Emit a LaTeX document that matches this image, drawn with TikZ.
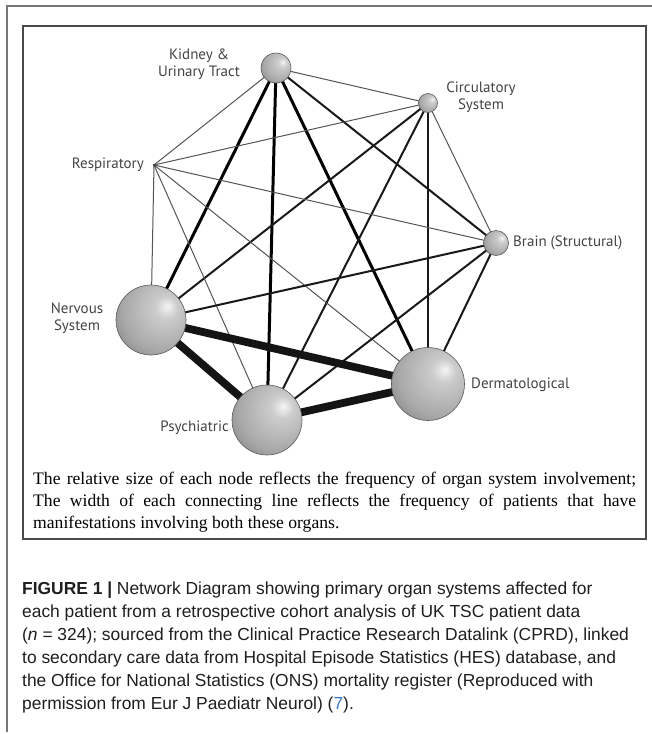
\documentclass[tikz,border=0pt]{standalone}
\usepackage{fontspec}
\setmainfont{Liberation Serif}
\newfontfamily\capfont{Liberation Sans}
\newfontfamily\labfont{PT Sans}
\usetikzlibrary{backgrounds}
\definecolor{labgray}{HTML}{444444}
\definecolor{framegray}{HTML}{777777}
\definecolor{boxgray}{HTML}{4A4A4A}
\definecolor{linkblue}{HTML}{3A78C0}
\definecolor{thingray}{HTML}{555555}
\pgfdeclareradialshading{sphereshade}{\pgfpoint{12bp}{10bp}}{%
  color(0bp)=(white!92!gray);
  color(8bp)=(gray!40);
  color(28bp)=(gray!68);
  color(48bp)=(gray!85!black);
  color(62bp)=(black!62);
  color(80bp)=(black!62)}
\tikzset{
  sph/.style={circle, draw=black!65, line width=0.6pt, shading=sphereshade, inner sep=0pt},
  lab/.style={font=\labfont\fontsize{15}{17}\selectfont, text=labgray, inner sep=0pt, align=center},
  thinedge/.style={draw=thingray, line width=1.0pt},
  mededge/.style={draw=black!90, line width=2.0pt},
  thickedge/.style={draw=black, line width=3.0pt},
  vthickedge/.style={draw=black!92, line width=7.8pt},
}
\begin{document}
\begin{tikzpicture}[x=1pt, y=-1pt]
\useasboundingbox (0,0) rectangle (652,734);
% frames
\draw[framegray, line width=1.5pt] (7,732) -- (7,6) -- (652,6);
\draw[boxgray, line width=1.6pt] (23,26) rectangle (646,539);
% spheres
\node[sph, minimum size=30pt] (K) at (276,68) {};
\node[sph, minimum size=19pt] (C) at (428,103) {};
\node[circle, fill=black!80, inner sep=0pt, minimum size=2.5pt] (R) at (154,165) {};
\node[sph, minimum size=25pt] (B) at (496,243) {};
\node[sph, minimum size=70pt] (N) at (151,320) {};
\node[sph, minimum size=73pt] (D) at (428,384) {};
\node[sph, minimum size=70pt] (P) at (267,420) {};
% background and edges
\begin{scope}[on background layer]
\fill[white] (0,0) rectangle (652,734);
\path[thinedge] (K.center) -- (C.center);
\path[thinedge] (K.center) -- (R.center);
\path[thickedge] (K.center) -- (N.center);
\path[thickedge] (K.center) -- (P.center);
\path[thickedge] (K.center) -- (D.center);
\path[mededge] (K.center) -- (B.center);
\path[thinedge] (C.center) -- (R.center);
\path[thinedge] (C.center) -- (B.center);
\path[mededge] (C.center) -- (N.center);
\path[mededge] (C.center) -- (P.center);
\path[mededge] (C.center) -- (D.center);
\path[thinedge] (R.center) -- (N.center);
\path[thinedge] (R.center) -- (B.center);
\path[thinedge] (R.center) -- (P.center);
\path[thinedge] (R.center) -- (D.center);
\path[mededge] (B.center) -- (N.center);
\path[mededge] (B.center) -- (P.center);
\path[mededge] (B.center) -- (D.center);
\path[vthickedge] (N.center) -- (D.center);
\path[vthickedge] (N.center) -- (P.center);
\path[vthickedge] (P.center) -- (D.center);
\end{scope}
% labels
\node[lab] (Klab) at (199,64) {Kidney \&\\Urinary Tract};
\node[lab] (Clab) at (481,97) {Circulatory\\System};
\node[lab, anchor=east] (Rlab) at (144,165) {Respiratory};
\node[lab, anchor=west] (Blab) at (513,243) {Brain (Structural)};
\node[lab] (Nlab) at (77,318) {Nervous\\System};
\node[lab, anchor=west] (Dlab) at (471,385) {Dermatological};
\node[lab, anchor=east] (Plab) at (229,428) {Psychiatric};
% box caption
\node[anchor=base west, inner sep=0pt, text width=603pt, align=justify,
      font=\fontsize{17.6}{22}\selectfont] (boxcap) at (33,484)
  {The relative size of each node reflects the frequency of organ system involvement;\linebreak
   The width of each connecting line reflects the frequency of patients that have\linebreak
   manifestations involving both these organs.};
% figure caption (base = last line)
\node[anchor=base west, inner sep=0pt, align=left, text=black!88,
      font=\capfont\fontsize{17.4}{23}\selectfont] (figcap) at (22,709)
  {\textbf{FIGURE 1 |} Network Diagram showing primary organ systems affected for\\
   each patient from a retrospective cohort analysis of UK TSC patient data\\
   (\textit{n} = 324); sourced from the Clinical Practice Research Datalink (CPRD), linked\\
   to secondary care data from Hospital Episode Statistics (HES) database, and\\
   the Office for National Statistics (ONS) mortality register (Reproduced with\\
   permission from Eur J Paediatr Neurol) ({\color{linkblue}7}).};
\end{tikzpicture}
\end{document}
